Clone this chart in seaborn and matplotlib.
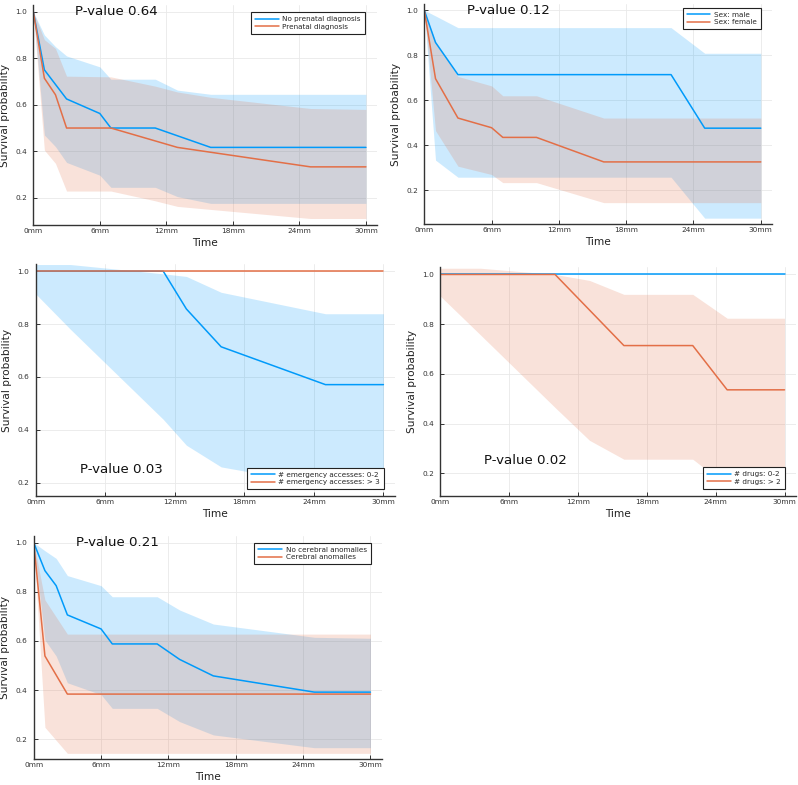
import numpy as np
import pandas as pd
import matplotlib
matplotlib.use("Agg")
import matplotlib.pyplot as plt
import seaborn as sns

# ---------------- data ----------------
x_ticks = [0, 6, 12, 18, 24, 30]
x_tick_labels = ["0mm", "6mm", "12mm", "18mm", "24mm", "30mm"]
y_ticks = [0.2, 0.4, 0.6, 0.8, 1.0]
y_tick_labels = ["0.2", "0.4", "0.6", "0.8", "1.0"]

# Panel 1
p1_labels = ["No prenatal diagnosis", "Prenatal diagnosis"]
p1_a_t = [0, 1, 3, 6, 7, 11, 16, 30]
p1_a_s = [1.0, 0.75, 0.625, 0.5625, 0.5, 0.5, 0.4167, 0.4167]
p1_a_ci_t = [0, 1, 2, 3, 6, 7, 11, 13, 16, 30]
p1_a_hi = [1.0, 0.90, 0.85, 0.81, 0.763, 0.71, 0.71, 0.663, 0.645, 0.645]
p1_a_lo = [1.0, 0.47, 0.42, 0.352, 0.297, 0.245, 0.245, 0.205, 0.176, 0.176]
p1_b_t = [0, 1, 2, 3, 7, 13, 25, 30]
p1_b_s = [1.0, 0.714, 0.643, 0.5, 0.5, 0.4167, 0.333, 0.333]
p1_b_ci_t = [0, 1, 2, 3, 7, 11, 13, 16, 25, 30]
p1_b_hi = [1.0, 0.88, 0.842, 0.723, 0.72, 0.68, 0.655, 0.632, 0.584, 0.58]
p1_b_lo = [1.0, 0.405, 0.348, 0.229, 0.229, 0.187, 0.163, 0.15, 0.111, 0.111]
p1_pvalue = "P-value 0.64"

# Panel 2
p2_labels = ["Sex: male", "Sex: female"]
p2_a_t = [0, 1, 3, 22, 25, 30]
p2_a_s = [1.0, 0.857, 0.714, 0.714, 0.476, 0.476]
p2_a_ci_t = [0, 1, 3, 22, 25, 30]
p2_a_hi = [1.0, 0.975, 0.923, 0.923, 0.809, 0.809]
p2_a_lo = [1.0, 0.334, 0.258, 0.258, 0.076, 0.076]
p2_b_t = [0, 1, 3, 6, 7, 10, 16, 30]
p2_b_s = [1.0, 0.696, 0.521, 0.478, 0.435, 0.435, 0.326, 0.326]
p2_b_ci_t = [0, 1, 3, 6, 7, 10, 16, 30]
p2_b_hi = [1.0, 0.86, 0.706, 0.664, 0.62, 0.62, 0.521, 0.521]
p2_b_lo = [1.0, 0.465, 0.307, 0.27, 0.234, 0.234, 0.145, 0.145]
p2_pvalue = "P-value 0.12"

# Panel 3
p3_labels = ["# emergency accesses: 0-2", "# emergency accesses: > 3"]
p3_a_t = [0, 11, 13, 16, 25, 30]
p3_a_s = [1.0, 1.0, 0.857, 0.714, 0.571, 0.571]
p3_a_ci_t = [0, 3, 11, 13, 16, 25, 30]
p3_a_hi = [1.025, 1.025, 0.99, 0.98, 0.92, 0.839, 0.839]
p3_a_lo = [0.914, 0.78, 0.44, 0.342, 0.26, 0.19, 0.19]
p3_b_t = [0, 30]
p3_b_s = [1.0, 1.0]
p3_pvalue = "P-value 0.03"

# Panel 4
p4_labels = ["# drugs: 0-2", "# drugs: > 2"]
p4_a_t = [0, 30]
p4_a_s = [1.0, 1.0]
p4_b_t = [0, 10, 16, 22, 25, 30]
p4_b_s = [1.0, 1.0, 0.714, 0.714, 0.536, 0.536]
p4_b_ci_t = [0, 3.5, 10, 13, 16, 22, 25, 30]
p4_b_hi = [1.025, 1.025, 1.0, 0.976, 0.92, 0.92, 0.824, 0.824]
p4_b_lo = [0.913, 0.757, 0.465, 0.333, 0.257, 0.257, 0.15, 0.15]
p4_pvalue = "P-value 0.02"

# Panel 5
p5_labels = ["No cerebral anomalies", "Cerebral anomalies"]
p5_a_t = [0, 1, 2, 3, 6, 7, 11, 13, 16, 25, 30]
p5_a_s = [1.0, 0.886, 0.825, 0.706, 0.649, 0.588, 0.588, 0.525, 0.458, 0.392, 0.392]
p5_a_hi = [1.0, 0.967, 0.936, 0.866, 0.825, 0.78, 0.78, 0.726, 0.669, 0.615, 0.611]
p5_a_lo = [1.0, 0.604, 0.539, 0.43, 0.382, 0.326, 0.326, 0.272, 0.218, 0.166, 0.166]
p5_b_t = [0, 1, 3, 30]
p5_b_s = [1.0, 0.539, 0.384, 0.384]
p5_b_hi = [1.0, 0.767, 0.628, 0.628]
p5_b_lo = [1.0, 0.249, 0.143, 0.143]
p5_pvalue = "P-value 0.21"

# ---------------- style ----------------
sns.set_theme(style="white")
plt.rcParams["font.family"] = ["DejaVu Sans"]
BLUE = "#009AFA"
ORANGE = "#E36F47"
W, H = 798, 785
fig = plt.figure(figsize=(W / 100, H / 100), dpi=100)


def make_ax(left, right, top, bottom):
    return fig.add_axes([left / W, 1 - bottom / H, (right - left) / W, (bottom - top) / H])


def draw_series(ax, t, s, color, label, ci_t=None, lo=None, hi=None):
    if ci_t is not None:
        ax.fill_between(ci_t, lo, hi, color=color, alpha=0.2, linewidth=0)
    df = pd.DataFrame({"Time": t, "Survival": s})
    sns.lineplot(data=df, x="Time", y="Survival", ax=ax, color=color, sort=False,
                 estimator=None, linewidth=1.1, label=label)


def style_ax(ax, ylim, pv_xy, legend_loc, legend_anchor):
    ax.set_xlim(0, 31)
    ax.set_ylim(*ylim)
    ax.set_xticks(x_ticks)
    ax.set_xticklabels(x_tick_labels)
    ax.set_yticks(y_ticks)
    ax.set_yticklabels(y_tick_labels)
    ax.grid(True, color="#e9e9e9", linewidth=0.6)
    for sp in ["top", "right"]:
        ax.spines[sp].set_visible(False)
    for sp in ["left", "bottom"]:
        ax.spines[sp].set_color("#333333")
        ax.spines[sp].set_linewidth(1.0)
    ax.tick_params(axis="x", direction="in", length=3, width=0.7, labelsize=5.3,
                   pad=2.5, colors="#333333", bottom=True)
    ax.tick_params(axis="y", direction="in", length=3, width=0.7, labelsize=5.3,
                   pad=4.5, colors="#333333", left=True)
    ax.set_xlabel("Time", fontsize=7.6, labelpad=2.5, color="#222222")
    ax.set_ylabel("Survival probability", fontsize=7.6, labelpad=4, color="#222222")
    ax.text(pv_xy[0], pv_xy[1], pv_xy[2], fontsize=9.6, ha="center", va="center",
            color="#111111")
    leg = ax.legend(loc=legend_loc, bbox_to_anchor=legend_anchor, borderaxespad=0,
                    fontsize=5.2, frameon=True, fancybox=False, framealpha=1,
                    edgecolor="#222222", handlelength=3.3, handletextpad=0.5,
                    labelspacing=0.2, borderpad=0.55)
    leg.get_frame().set_linewidth(0.8)


# Panel 1
ax1 = make_ax(33.3, 377, 5, 225)
draw_series(ax1, p1_a_t, p1_a_s, BLUE, p1_labels[0], p1_a_ci_t, p1_a_lo, p1_a_hi)
draw_series(ax1, p1_b_t, p1_b_s, ORANGE, p1_labels[1], p1_b_ci_t, p1_b_lo, p1_b_hi)
style_ax(ax1, (0.083, 1.029), (7.5, 1.0, p1_pvalue), "upper right", (0.965, 0.968))

# Panel 2
ax2 = make_ax(424.3, 772, 4, 224)
draw_series(ax2, p2_a_t, p2_a_s, BLUE, p2_labels[0], p2_a_ci_t, p2_a_lo, p2_a_hi)
draw_series(ax2, p2_b_t, p2_b_s, ORANGE, p2_labels[1], p2_b_ci_t, p2_b_lo, p2_b_hi)
style_ax(ax2, (0.05, 1.028), (7.5, 1.0, p2_pvalue), "upper right", (0.968, 0.982))

# Panel 3
ax3 = make_ax(35.7, 395, 264, 496)
draw_series(ax3, p3_a_t, p3_a_s, BLUE, p3_labels[0], p3_a_ci_t, p3_a_lo, p3_a_hi)
draw_series(ax3, p3_b_t, p3_b_s, ORANGE, p3_labels[1])
style_ax(ax3, (0.15, 1.027), (7.4, 0.25, p3_pvalue), "lower right", (0.969, 0.03))

# Panel 4
ax4 = make_ax(440.3, 796, 267, 496)
draw_series(ax4, p4_a_t, p4_a_s, BLUE, p4_labels[0])
draw_series(ax4, p4_b_t, p4_b_s, ORANGE, p4_labels[1], p4_b_ci_t, p4_b_lo, p4_b_hi)
style_ax(ax4, (0.109, 1.03), (7.4, 0.25, p4_pvalue), "lower right", (0.969, 0.031))

# Panel 5
ax5 = make_ax(33.7, 381.7, 536, 759)
draw_series(ax5, p5_a_t, p5_a_s, BLUE, p5_labels[0], p5_a_t, p5_a_lo, p5_a_hi)
draw_series(ax5, p5_b_t, p5_b_s, ORANGE, p5_labels[1], p5_b_t, p5_b_lo, p5_b_hi)
style_ax(ax5, (0.12, 1.027), (7.5, 1.0, p5_pvalue), "upper right", (0.969, 0.969))

fig.savefig("out.png", dpi=100)
